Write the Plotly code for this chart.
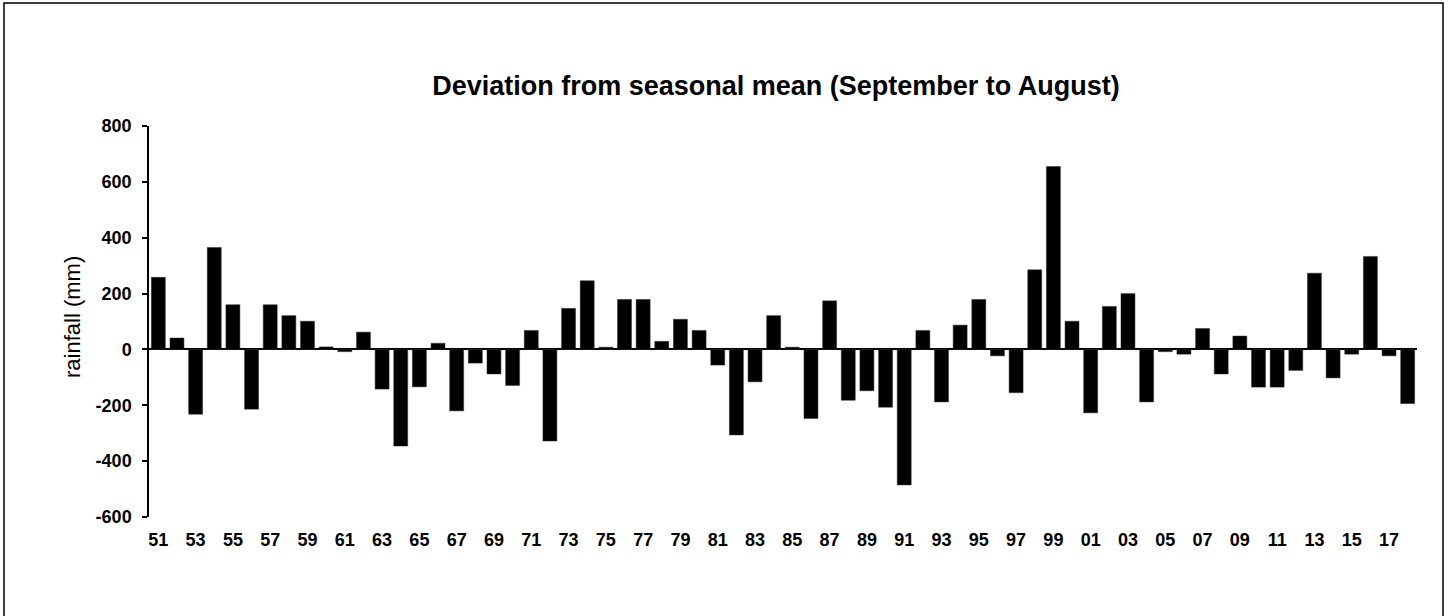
import plotly.graph_objects as go

years = ["51","52","53","54","55","56","57","58","59","60",
         "61","62","63","64","65","66","67","68","69","70",
         "71","72","73","74","75","76","77","78","79","80",
         "81","82","83","84","85","86","87","88","89","90",
         "91","92","93","94","95","96","97","98","99","00",
         "01","02","03","04","05","06","07","08","09","10",
         "11","12","13","14","15","16","17","18"]

deviation = [258, 41, -232, 365, 160, -214, 160, 121, 101, 9,
             -8, 62, -142, -346, -134, 22, -220, -49, -88, -129,
             68, -328, 147, 246, 8, 179, 179, 29, 108, 68,
             -56, -306, -116, 121, 8, -247, 174, -182, -148, -207,
             -485, 68, -188, 87, 179, -23, -155, 285, 655, 101,
             -227, 154, 200, -188, -8, -17, 75, -88, 48, -135,
             -135, -75, 273, -102, -17, 333, -23, -194]

tick_labels = years[::2]
y_ticks = [800, 600, 400, 200, 0, -200, -400, -600]

title_text = "Deviation from seasonal mean (September to August)"
y_title = "rainfall (mm)"

W, H = 1450, 616
L, R, T, B = 149, 33, 126, 99
pw, ph = W - L - R, H - T - B

fig = go.Figure()
fig.add_trace(go.Bar(
    x=years, y=deviation,
    marker=dict(color="black", line=dict(color="#333333", width=0.5)),
    width=0.75,
    showlegend=False,
))

fig.update_layout(
    width=W, height=H,
    margin=dict(l=L, r=R, t=T, b=B, autoexpand=False),
    paper_bgcolor="white", plot_bgcolor="white",
    font=dict(family="Liberation Sans, Arial, sans-serif", color="black", size=18),
    title=dict(
        text="<b>" + title_text + "</b>",
        font=dict(family="Liberation Sans, Arial, sans-serif", size=27, color="black"),
        x=776 / W, xanchor="center",
        y=1 - 86 / H, yanchor="middle",
    ),
    xaxis=dict(
        type="category",
        tickmode="array", tickvals=tick_labels,
        ticktext=["<b>" + t + "</b>" for t in tick_labels],
        showline=False, showgrid=False, ticks="",
        tickfont=dict(size=18, color="black"),
        ticklabelstandoff=10,
        range=[-0.5, len(years) - 0.5],
        fixedrange=True,
    ),
    yaxis=dict(
        range=[-600, 800],
        tickmode="array", tickvals=y_ticks,
        ticktext=["<b>" + (("-" + str(-v)) if v < 0 else str(v)) + "</b>" for v in y_ticks],
        showline=True, linecolor="black", linewidth=1.5,
        ticks="outside", ticklen=5, tickwidth=1.5, tickcolor="black",
        showgrid=False,
        zeroline=True, zerolinecolor="black", zerolinewidth=1.5,
        tickfont=dict(size=18, color="black"),
        ticklabelstandoff=7,
        fixedrange=True,
    ),
    bargap=0.25,
)

fig.add_annotation(
    text=y_title, xref="paper", yref="paper",
    x=(72 - L) / pw, y=(H - B - 317) / ph,
    xanchor="center", yanchor="middle", textangle=-90,
    showarrow=False, font=dict(size=22, color="black"),
)

# outer chart border (bottom edge lies just outside the visible page)
fig.add_shape(
    type="rect", xref="paper", yref="paper",
    x0=(4 - L) / pw, x1=(1443 - L) / pw,
    y0=(H - B - 620) / ph, y1=(H - B - 3) / ph,
    line=dict(color="black", width=1.5), fillcolor="rgba(0,0,0,0)",
    layer="above",
)

fig.write_html("out.html", config={"displayModeBar": False},
               post_script="document.body.style.margin='0';")
